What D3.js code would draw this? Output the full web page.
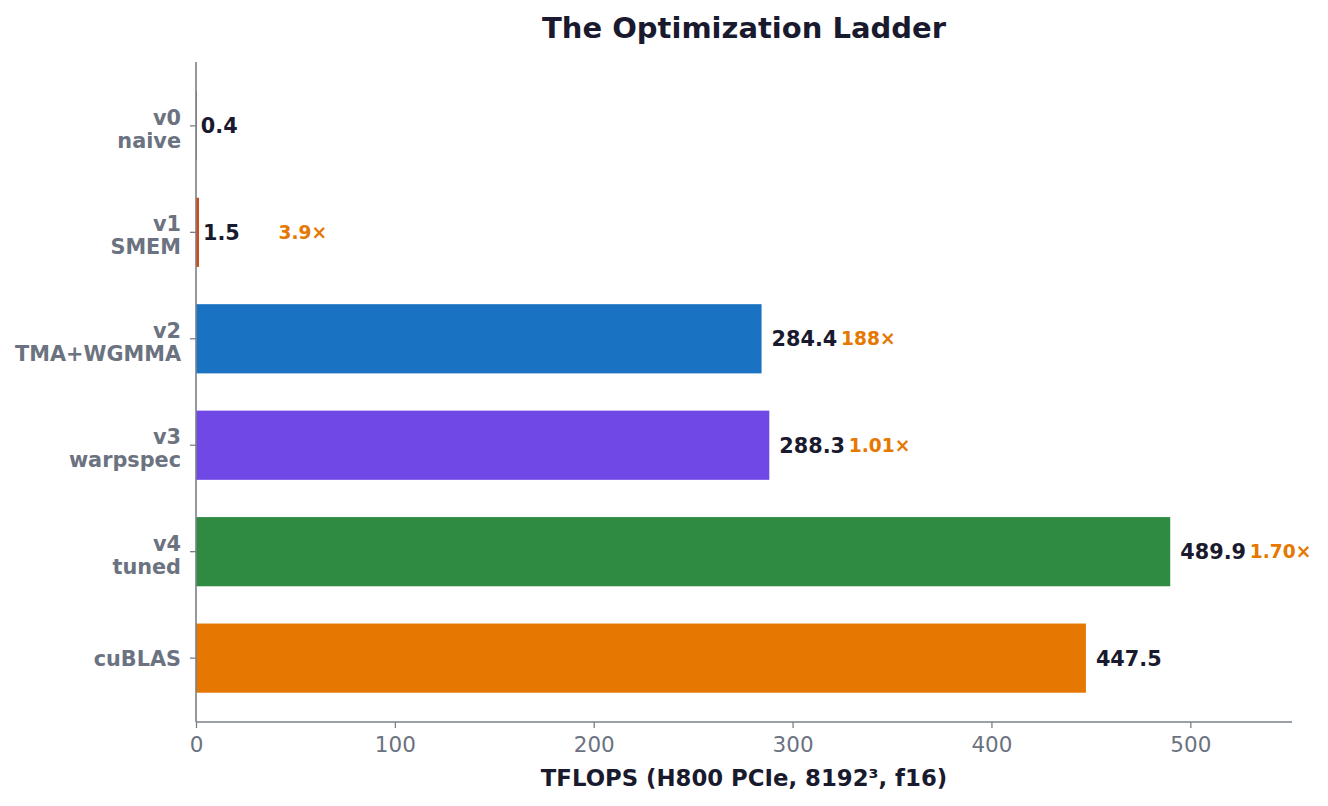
<!DOCTYPE html>
<html>
<head>
<meta charset="utf-8">
<script src="https://cdn.jsdelivr.net/npm/d3@7"></script>
<style>
  body { margin: 0; background: #fff; }
  svg text { font-family: "DejaVu Sans", sans-serif; }
</style>
</head>
<body>
<svg id="chart" width="1328" height="806"></svg>
<script>
// data
const versions = ["v0", "v1", "v2", "v3", "v4", "cuBLAS"];
const subtitles = ["naive", "SMEM", "TMA+WGMMA", "warpspec", "tuned", ""];
const tflops = [0.4, 1.5, 284.4, 288.3, 489.9, 447.5];
const speedups = ["", "3.9×", "188×", "1.01×", "1.70×", ""];
const barColors = ["#a0405a", "#d9480f", "#1a73c2", "#6f48e6", "#2e8b41", "#e67700"];
const xTicks = [0, 100, 200, 300, 400, 500];

const svg = d3.select("#chart");
const margin = { top: 62, right: 36, bottom: 84, left: 196 };
const width = +svg.attr("width");
const height = +svg.attr("height");
const plotW = width - margin.left - margin.right;
const plotH = height - margin.top - margin.bottom;

const axisColor = "#7a8088";
const tickText = "#6b7280";
const dark = "#1a1a2e";

const g = svg.append("g").attr("transform", `translate(${margin.left},${margin.top})`);

const x = d3.scaleLinear().domain([0, d3.max(tflops) * 1.125]).range([0, plotW]);
const y = d3.scaleBand().domain(versions).range([0, plotH])
  .paddingInner(0.35).paddingOuter(0.275);

// bars
g.selectAll("rect.bar").data(versions).enter().append("rect")
  .attr("class", "bar")
  .attr("x", x(0))
  .attr("y", d => y(d))
  .attr("width", (d, i) => x(tflops[i]) - x(0))
  .attr("height", y.bandwidth())
  .attr("fill", (d, i) => barColors[i]);

// value labels
g.selectAll("text.val").data(versions).enter().append("text")
  .attr("class", "val")
  .attr("x", (d, i) => x(tflops[i]) + (tflops[i] < 10 ? 4 : 10))
  .attr("y", d => y(d) + y.bandwidth() / 2)
  .attr("dy", "0.36em")
  .attr("fill", dark)
  .attr("font-weight", "bold")
  .attr("font-size", 20.8)
  .text((d, i) => tflops[i].toFixed(1));

// speedup labels vs previous step
g.selectAll("text.speed").data(versions).enter().append("text")
  .attr("class", "speed")
  .attr("x", (d, i) => x(tflops[i] + 40))
  .attr("y", d => y(d) + y.bandwidth() / 2)
  .attr("dy", "0.36em")
  .attr("fill", "#e67700")
  .attr("font-weight", "bold")
  .attr("font-size", 18.6)
  .text((d, i) => speedups[i]);

// x axis
const xAxis = g.append("g").attr("transform", `translate(0,${plotH})`)
  .call(d3.axisBottom(x).tickValues(xTicks).tickSize(6).tickPadding(9).tickFormat(d3.format("d")));
xAxis.select(".domain").attr("stroke", axisColor).attr("stroke-width", 1.6)
  .attr("d", `M0,0H${plotW}`);
xAxis.selectAll(".tick line").attr("stroke", axisColor).attr("stroke-width", 1.3);
xAxis.selectAll(".tick text").attr("fill", tickText).attr("font-size", 21.5)
  .attr("font-family", "DejaVu Sans, sans-serif");

// y axis
const yAxis = g.append("g")
  .call(d3.axisLeft(y).tickSize(6).tickPadding(8).tickFormat(""));
yAxis.select(".domain").attr("stroke", axisColor).attr("stroke-width", 1.6)
  .attr("d", `M0,0V${plotH}`);
yAxis.selectAll(".tick line").attr("stroke", axisColor).attr("stroke-width", 1.3);

// two-line category labels
yAxis.selectAll(".tick").each(function(d, i) {
  const t = d3.select(this).append("text")
    .attr("x", -15)
    .attr("text-anchor", "end")
    .attr("fill", tickText)
    .attr("font-weight", "bold")
    .attr("font-size", 20.8)
    .attr("font-family", "DejaVu Sans, sans-serif");
  if (subtitles[i]) {
    t.append("tspan").attr("x", -15).attr("y", -1).text(versions[i]);
    t.append("tspan").attr("x", -15).attr("y", 22).text(subtitles[i]);
  } else {
    t.attr("y", 8).text(versions[i]);
  }
});

// title
svg.append("text")
  .attr("x", margin.left + plotW / 2)
  .attr("y", 38)
  .attr("text-anchor", "middle")
  .attr("fill", dark)
  .attr("font-weight", "bold")
  .attr("font-size", 29)
  .text("The Optimization Ladder");

// x axis label
svg.append("text")
  .attr("x", margin.left + plotW / 2)
  .attr("y", 786)
  .attr("text-anchor", "middle")
  .attr("fill", dark)
  .attr("font-weight", "bold")
  .attr("font-size", 22.8)
  .text("TFLOPS (H800 PCIe, 8192³, f16)");
</script>
</body>
</html>
